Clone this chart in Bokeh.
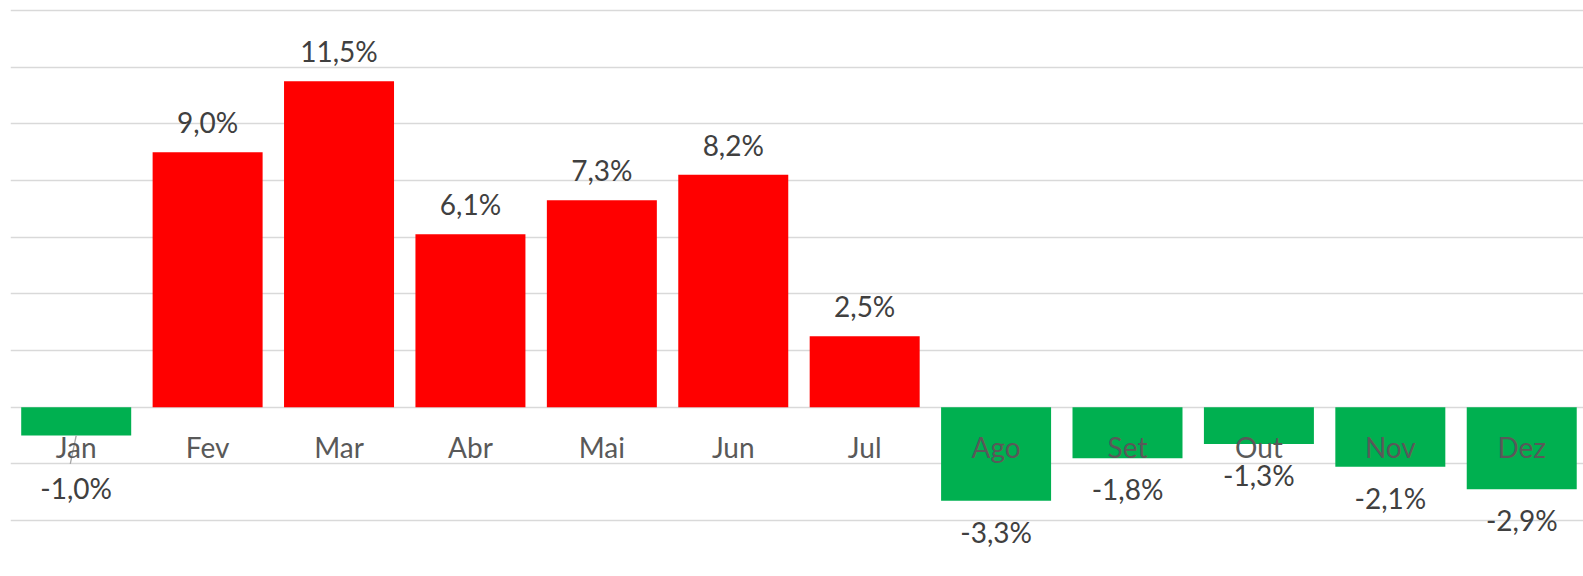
from bokeh.plotting import figure
from bokeh.models import ColumnDataSource, Range1d, FixedTicker
from bokeh.core.properties import value
from bokeh.embed import file_html
from bokeh.resources import INLINE

months = ["Jan", "Fev", "Mar", "Abr", "Mai", "Jun", "Jul", "Ago", "Set", "Out", "Nov", "Dez"]
values = [-1.0, 9.0, 11.5, 6.1, 7.3, 8.2, 2.5, -3.3, -1.8, -1.3, -2.1, -2.9]
grid_ticks = [-4, -2, 0, 2, 4, 6, 8, 10, 12, 14]

RED = "#FF0000"
GREEN = "#00B050"
FONT = "Lato"

xs = [i + 0.5 for i in range(len(months))]
colors = [RED if v > 0 else GREEN for v in values]
labels = [f"{v:.1f}".replace(".", ",") + "%" for v in values]
offsets = []
for i, v in enumerate(values):
    if v > 0:
        offsets.append(-30)
    elif i == 0:
        offsets.append(53)   # label moved away from the category text (with leader line)
    else:
        offsets.append(31)

src = ColumnDataSource(dict(x=xs, top=values, color=colors, label=labels,
                            off=offsets, month=months, zero=[0] * len(months)))

p = figure(width=1583, height=576, output_backend="svg", toolbar_location=None,
           x_range=Range1d(0, 11.97), y_range=Range1d(-5.694, 14.07),
           min_border_left=10, min_border_right=0, min_border_top=8, min_border_bottom=8)
p.outline_line_color = None
p.background_fill_color = "white"
p.border_fill_color = "white"
p.xaxis.visible = False
p.yaxis.visible = False
p.xgrid.grid_line_color = None
p.ygrid.ticker = FixedTicker(ticks=grid_ticks)
p.ygrid.grid_line_color = "#d9d9d9"
p.ygrid.grid_line_width = 1.4

p.vbar(x="x", top="top", bottom=0, width=0.837, color="color", line_color=None, source=src)

# leader line for the moved Jan label
jx = xs[0]
jv = values[0]
p.segment(x0=[jx], y0=[jv], x1=[jx - 0.045], y1=[jv - 1.0], line_color="#a6a6a6", line_width=1.3)

# category labels next to the zero line
p.text(x="x", y="zero", text="month", source=src, y_offset=40,
       text_align="center", text_baseline="alphabetic",
       text_font=value(FONT), text_font_size="28px", text_color="#595959")

# data labels
p.text(x="x", y="top", text="label", source=src, y_offset="off",
       text_align="center", text_baseline="alphabetic",
       text_font=value(FONT), text_font_size="28px", text_color="#404040")

open("out.html", "w").write(file_html(p, INLINE))
